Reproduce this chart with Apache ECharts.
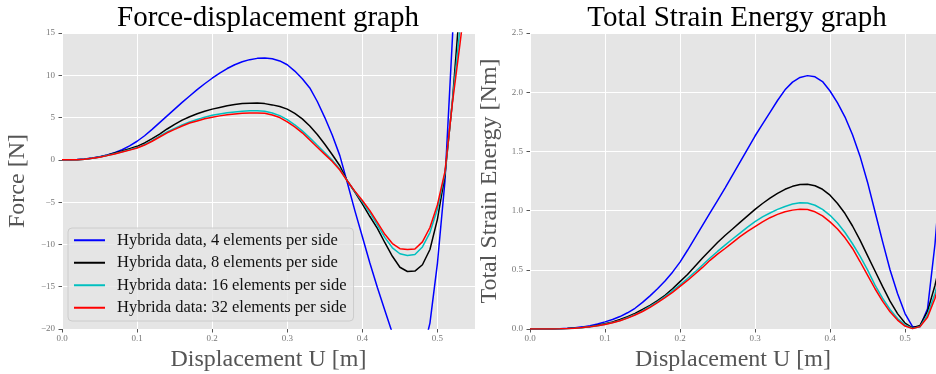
<!DOCTYPE html>
<html>
<head>
<meta charset="utf-8">
<script src="https://cdn.jsdelivr.net/npm/echarts@6/dist/echarts.min.js"></script>
<style>
  html, body { margin: 0; padding: 0; background: #ffffff; }
  #chart { width: 936px; height: 374px; }
</style>
</head>
<body>
<div id="chart"></div>
<script>
// Prescribed displacement steps [m]
const displacement = [
  0.00, 0.01, 0.02, 0.03, 0.04, 0.05, 0.06, 0.07, 0.08, 0.09,
  0.10, 0.11, 0.12, 0.13, 0.14, 0.15, 0.16, 0.17, 0.18, 0.19,
  0.20, 0.21, 0.22, 0.23, 0.24, 0.25, 0.26, 0.27, 0.28, 0.29,
  0.30, 0.31, 0.32, 0.33, 0.34, 0.35, 0.36, 0.37, 0.38, 0.39,
  0.40, 0.41, 0.42, 0.43, 0.44, 0.45, 0.46, 0.47, 0.48, 0.49,
  0.50, 0.51, 0.52, 0.53, 0.54, 0.55
];

// Reaction force [N] per mesh refinement
const force4 = [
  0, 0, 0.03, 0.1, 0.22, 0.38, 0.58, 0.85, 1.2, 1.65,
  2.2, 2.85, 3.6, 4.4, 5.2, 6.0, 6.8, 7.55, 8.3, 9.0,
  9.65, 10.25, 10.8, 11.25, 11.6, 11.85, 12.0, 12.05, 11.95, 11.7,
  11.25, 10.5, 9.6, 8.5, 6.9, 5.0, 2.9, 0.5, -2.7, -6.0,
  -9.1, -12.2, -15.1, -17.8, -20.5, -23.0, -24.6, -24.8, -23.0, -19.3,
  -12.2, -2.5, 14.5, 35, 60, 90
];
const force8 = [
  0, 0, 0.02, 0.08, 0.2, 0.35, 0.55, 0.8, 1.05, 1.33,
  1.6, 2.0, 2.5, 3.05, 3.65, 4.2, 4.7, 5.1, 5.45, 5.75,
  6.0, 6.2, 6.4, 6.55, 6.65, 6.7, 6.72, 6.65, 6.5, 6.3,
  6.0, 5.5, 4.85, 4.0, 3.0, 1.85, 0.6, -0.7, -2.5, -3.8,
  -5.2, -6.7, -8.1, -9.8, -11.4, -12.7, -13.2, -13.15, -12.4, -10.6,
  -7.0, -1.8, 7.0, 18.5, 30, 43
];
const force16 = [
  0, 0, 0.02, 0.08, 0.18, 0.33, 0.51, 0.72, 0.95, 1.2,
  1.45, 1.82, 2.28, 2.8, 3.3, 3.72, 4.12, 4.48, 4.78, 5.05,
  5.27, 5.43, 5.57, 5.67, 5.75, 5.8, 5.8, 5.75, 5.55, 5.23,
  4.75, 4.15, 3.43, 2.6, 1.72, 0.85, -0.05, -1.1, -2.5, -3.75,
  -4.95, -6.25, -7.7, -9.2, -10.4, -11.1, -11.3, -11.2, -10.3, -8.6,
  -5.8, -1.6, 7.0, 15.5, 24, 33
];
const force32 = [
  0, 0, 0.02, 0.08, 0.18, 0.32, 0.5, 0.7, 0.92, 1.15,
  1.4, 1.75, 2.2, 2.7, 3.2, 3.6, 4.0, 4.35, 4.6, 4.85,
  5.05, 5.2, 5.32, 5.42, 5.5, 5.54, 5.55, 5.5, 5.3, 5.0,
  4.5, 3.9, 3.2, 2.35, 1.5, 0.65, -0.2, -1.2, -2.5, -3.7,
  -4.8, -6.0, -7.4, -8.8, -9.9, -10.5, -10.6, -10.55, -9.7, -8.0,
  -5.3, -1.4, 6.8, 13.7, 21, 28
];

// Total strain energy [Nm] per mesh refinement
const energy4 = [
  0, 0, 0, 0.001, 0.003, 0.006, 0.011, 0.018, 0.028, 0.042,
  0.06, 0.08, 0.105, 0.137, 0.175, 0.225, 0.28, 0.34, 0.405, 0.48,
  0.565, 0.665, 0.77, 0.875, 0.98, 1.085, 1.19, 1.3, 1.41, 1.52,
  1.63, 1.73, 1.83, 1.93, 2.02, 2.085, 2.125, 2.14, 2.13, 2.09,
  2.01, 1.91, 1.79, 1.64, 1.46, 1.24, 0.99, 0.74, 0.5, 0.3,
  0.13, 0.02, 0.02, 0.17, 0.72, 1.5
];
const energy8 = [
  0, 0, 0, 0.001, 0.002, 0.004, 0.008, 0.013, 0.02, 0.031,
  0.045, 0.06, 0.08, 0.104, 0.132, 0.165, 0.2, 0.24, 0.285, 0.34,
  0.4, 0.46, 0.53, 0.6, 0.665, 0.73, 0.79, 0.845, 0.9, 0.955,
  1.01, 1.06, 1.105, 1.145, 1.18, 1.205, 1.22, 1.222, 1.21, 1.18,
  1.13, 1.06, 0.975, 0.87, 0.75, 0.62, 0.49, 0.36, 0.235, 0.13,
  0.05, 0.01, 0.03, 0.15, 0.37, 0.65
];
const energy16 = [
  0, 0, 0, 0.001, 0.002, 0.004, 0.007, 0.012, 0.019, 0.028,
  0.04, 0.054, 0.072, 0.095, 0.122, 0.153, 0.19, 0.23, 0.274, 0.322,
  0.373, 0.426, 0.482, 0.54, 0.6, 0.655, 0.708, 0.76, 0.81, 0.86,
  0.907, 0.947, 0.98, 1.01, 1.035, 1.055, 1.066, 1.064, 1.045, 1.01,
  0.96, 0.895, 0.815, 0.72, 0.615, 0.5, 0.37, 0.26, 0.165, 0.088,
  0.035, 0.004, 0.02, 0.12, 0.3, 0.55
];
const energy32 = [
  0, 0, 0, 0.001, 0.002, 0.004, 0.007, 0.012, 0.018, 0.027,
  0.038, 0.052, 0.07, 0.092, 0.118, 0.148, 0.183, 0.222, 0.265, 0.31,
  0.36, 0.41, 0.465, 0.52, 0.58, 0.632, 0.68, 0.73, 0.78, 0.825,
  0.865, 0.905, 0.94, 0.968, 0.99, 1.004, 1.012, 1.01, 0.99, 0.955,
  0.905, 0.845, 0.77, 0.68, 0.57, 0.455, 0.34, 0.235, 0.145, 0.075,
  0.025, 0.003, 0.02, 0.1, 0.26, 0.48
];

// Series labels and tick values
const seriesNames = [
  'Hybrida data, 4 elements per side',
  'Hybrida data, 8 elements per side',
  'Hybrida data: 16 elements per side',
  'Hybrida data: 32 elements per side'
];
const seriesColors = ['#0000ff', '#000000', '#00bfbf', '#ff0000'];
const xTicks = [0.0, 0.1, 0.2, 0.3, 0.4, 0.5];
const forceTicks = [-20, -15, -10, -5, 0, 5, 10, 15];
const energyTicks = [0.0, 0.5, 1.0, 1.5, 2.0, 2.5];

const SERIF = "'Liberation Serif', 'DejaVu Serif', serif";
const pair = (ys) => displacement.map((u, i) => [u, ys[i]]);
const minus = (s) => String(s).replace('-', '\u2212');

function xAxisFor(gridIndex, max) {
  return {
    type: 'value', gridIndex: gridIndex, min: 0, max: max,
    axisLine: { show: false, onZero: false },
    axisTick: { show: true, length: 3.5, customValues: xTicks, lineStyle: { color: '#555555', width: 1 } },
    axisLabel: { customValues: xTicks, formatter: (v) => v.toFixed(1), color: '#777777', fontFamily: SERIF, fontSize: 9, margin: 5 },
    splitLine: { show: true, lineStyle: { color: '#ffffff', width: 1 } },
    name: 'Displacement U [m]', nameLocation: 'middle', nameGap: 17,
    nameTextStyle: { fontFamily: SERIF, fontSize: 24, color: '#555555' }
  };
}
function yAxisFor(gridIndex, min, max, interval, ticks, fmt, name, gap) {
  return {
    type: 'value', gridIndex: gridIndex, min: min, max: max, interval: interval,
    axisLine: { show: false, onZero: false },
    axisTick: { show: true, length: 3.5, customValues: ticks, lineStyle: { color: '#555555', width: 1 } },
    axisLabel: { customValues: ticks, formatter: fmt, color: '#777777', fontFamily: SERIF, fontSize: 9, margin: 7 },
    splitLine: { show: true, lineStyle: { color: '#ffffff', width: 1 } },
    name: name, nameLocation: 'middle', nameGap: gap,
    nameTextStyle: { fontFamily: SERIF, fontSize: 24, color: '#555555' }
  };
}

const forceSets = [force4, force8, force16, force32];
const energySets = [energy4, energy8, energy16, energy32];
const series = [];
forceSets.forEach((ys, k) => series.push({
  name: seriesNames[k], type: 'line', xAxisIndex: 0, yAxisIndex: 0,
  data: pair(ys), showSymbol: false, symbol: 'none', clip: true,
  lineStyle: { color: seriesColors[k], width: 1.5 }, itemStyle: { color: seriesColors[k] }
}));
energySets.forEach((ys, k) => series.push({
  name: seriesNames[k], type: 'line', xAxisIndex: 1, yAxisIndex: 1,
  data: pair(ys), showSymbol: false, symbol: 'none', clip: true,
  lineStyle: { color: seriesColors[k], width: 1.5 }, itemStyle: { color: seriesColors[k] }
}));

const chart = echarts.init(document.getElementById('chart'), null, { renderer: 'canvas' });
chart.setOption({
  animation: false,
  backgroundColor: '#ffffff',
  title: [
    { text: 'Force-displacement graph', left: 268, top: 4, textAlign: 'center', padding: 0,
      textStyle: { fontFamily: SERIF, fontSize: 29, fontWeight: 'normal', color: '#000000' } },
    { text: 'Total Strain Energy graph', left: 737, top: 4, textAlign: 'center', padding: 0,
      textStyle: { fontFamily: SERIF, fontSize: 29, fontWeight: 'normal', color: '#000000' } }
  ],
  grid: [
    { left: 62, top: 33, width: 413, height: 296, outerBoundsMode: 'none', containLabel: false,
      show: true, backgroundColor: '#e5e5e5', borderWidth: 0 },
    { left: 530, top: 33, width: 406, height: 296, outerBoundsMode: 'none', containLabel: false,
      show: true, backgroundColor: '#e5e5e5', borderWidth: 0 }
  ],
  xAxis: [xAxisFor(0, 0.55), xAxisFor(1, 0.5413)],
  yAxis: [
    yAxisFor(0, -20, 15, 5, forceTicks, (v) => minus(v), 'Force [N]', 32),
    yAxisFor(1, 0, 2.5, 0.5, energyTicks, (v) => v.toFixed(1), 'Total Strain Energy [Nm]', 28)
  ],
  legend: {
    orient: 'vertical', left: 68, top: 228,
    padding: [3, 7, 4, 6], itemGap: 4, itemWidth: 31, itemHeight: 2, icon: 'rect',
    backgroundColor: 'rgba(229,229,229,0.8)', borderColor: '#cccccc', borderWidth: 1, borderRadius: 4,
    textStyle: { fontFamily: SERIF, fontSize: 16.5, color: '#111111', lineHeight: 18.5, padding: [0, 0, 0, 7] },
    data: seriesNames
  },
  series: series
});
</script>
</body>
</html>
